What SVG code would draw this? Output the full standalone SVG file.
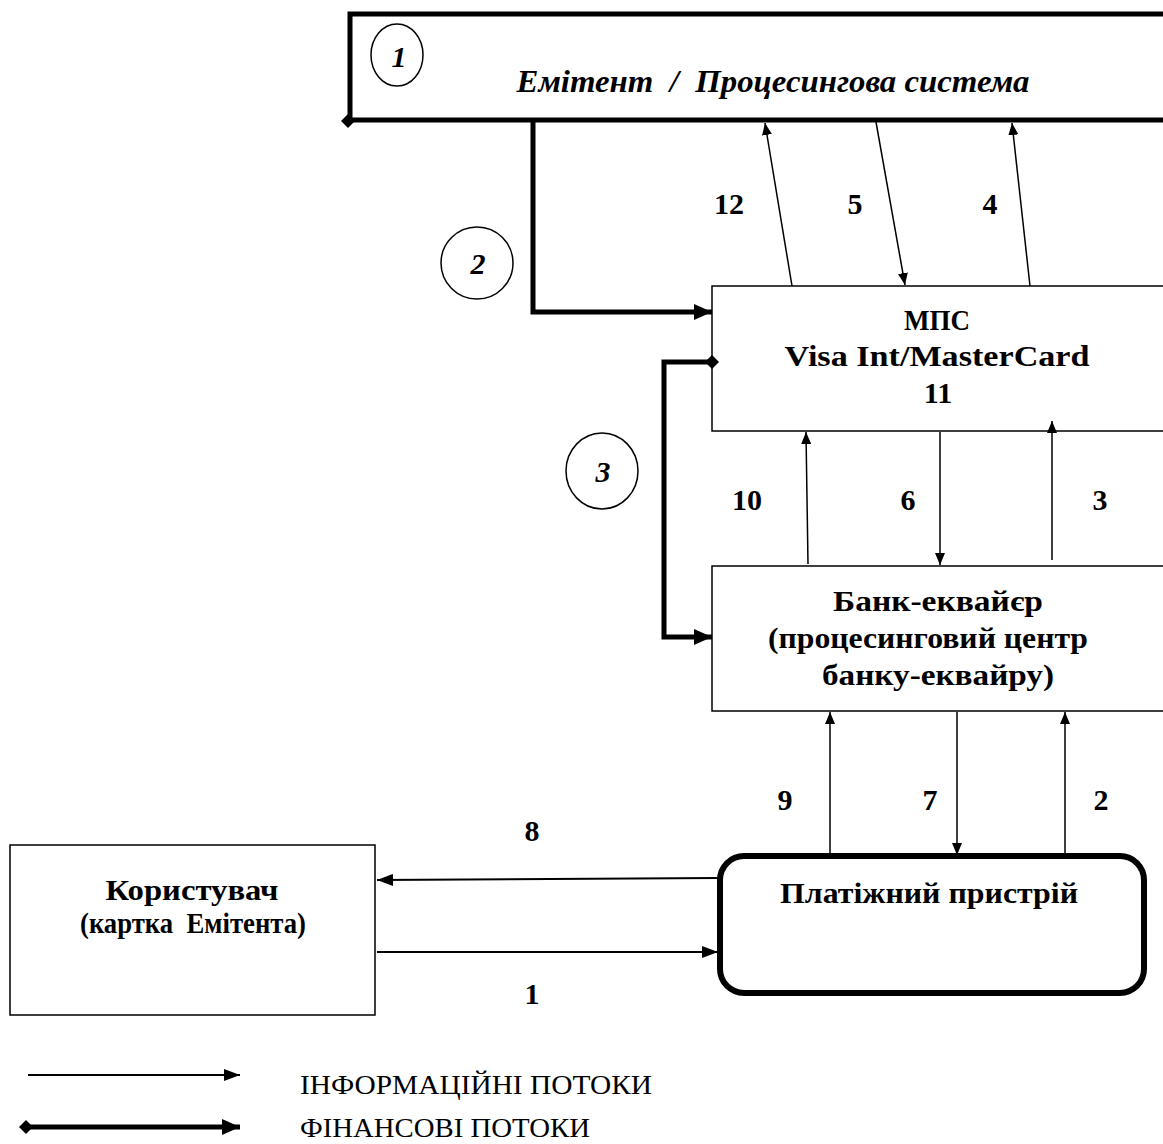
<svg xmlns="http://www.w3.org/2000/svg" width="1163" height="1144" viewBox="0 0 1163 1144">
<style>
.t{font-family:"Liberation Serif","Times New Roman",serif;font-weight:bold;font-size:30px;fill:#000;text-anchor:middle}
.ti{font-family:"Liberation Serif","Times New Roman",serif;font-weight:bold;font-style:italic;fill:#000;text-anchor:middle}
.lg{font-family:"Liberation Serif","Times New Roman",serif;font-size:28px;fill:#000}
.info{stroke:#000;stroke-width:1.5;fill:none}
.fin{stroke:#000;stroke-width:5;fill:none}
.box{fill:#fff;stroke:#000;stroke-width:1.5}
</style>
<defs>
<marker id="ah" viewBox="0 0 12 10" refX="12" refY="5" markerWidth="12" markerHeight="10" markerUnits="userSpaceOnUse" orient="auto">
<path d="M0,0 L12,5 L0,10 Z" fill="#000"/>
</marker>
<marker id="ahl" viewBox="0 0 16 12" refX="16" refY="6" markerWidth="16" markerHeight="12" markerUnits="userSpaceOnUse" orient="auto">
<path d="M0,0 L16,6 L0,12 Z" fill="#000"/>
</marker>
<marker id="ahf" viewBox="0 0 18 16" refX="18" refY="8" markerWidth="18" markerHeight="16" markerUnits="userSpaceOnUse" orient="auto">
<path d="M0,0 L18,8 L0,16 Z" fill="#000"/>
</marker>
<marker id="dia" viewBox="0 0 14 14" refX="7" refY="7" markerWidth="14" markerHeight="14" markerUnits="userSpaceOnUse" orient="auto">
<path d="M0,7 L7,0 L14,7 L7,14 Z" fill="#000"/>
</marker>
</defs>
<rect width="1163" height="1144" fill="#fff"/>

<g id="emitent">
<rect x="350" y="14" width="830" height="106" fill="#fff" stroke="#000" stroke-width="5"/>
<text class="ti" x="773" y="92" font-size="32" xml:space="preserve" textLength="513" lengthAdjust="spacingAndGlyphs">Емітент  /  Процесингова система</text>
</g>
<g id="circle1">
<ellipse cx="397" cy="55" rx="26" ry="31" fill="#fff" stroke="#000" stroke-width="1.5"/>
<text class="ti" x="399" y="67" font-size="30">1</text>
</g>
<g id="circle2">
<ellipse cx="477" cy="263" rx="36" ry="36" fill="#fff" stroke="#000" stroke-width="1.5"/>
<text class="ti" x="478" y="274" font-size="30">2</text>
</g>
<g id="circle3">
<ellipse cx="602" cy="471" rx="36" ry="38" fill="#fff" stroke="#000" stroke-width="1.5"/>
<text class="ti" x="603" y="482" font-size="30">3</text>
</g>

<g id="mps">
<rect class="box" x="712" y="286" width="470" height="145"/>
<text class="t" x="937" y="330" textLength="66" lengthAdjust="spacingAndGlyphs">МПС</text>
<text class="t" x="937" y="366" font-size="32" textLength="305" lengthAdjust="spacingAndGlyphs">Visa Int/MasterCard</text>
<text class="t" x="938" y="403" font-size="32">11</text>
</g>

<g id="bank">
<rect class="box" x="712" y="566" width="470" height="145"/>
<text class="t" x="938" y="611" textLength="210" lengthAdjust="spacingAndGlyphs">Банк-еквайєр</text>
<text class="t" x="928" y="648" textLength="320" lengthAdjust="spacingAndGlyphs">(процесинговий центр</text>
<text class="t" x="938" y="685" textLength="232" lengthAdjust="spacingAndGlyphs">банку-еквайру)</text>
</g>

<g id="device">
<rect x="720" y="856" width="424" height="137" rx="24" ry="24" fill="#fff" stroke="#000" stroke-width="6"/>
<text class="t" x="929" y="903" textLength="298" lengthAdjust="spacingAndGlyphs">Платіжний пристрій</text>
</g>

<g id="user">
<rect class="box" x="10" y="845" width="365" height="170"/>
<text class="t" x="192" y="900" textLength="173" lengthAdjust="spacingAndGlyphs">Користувач</text>
<text class="t" x="193" y="933" font-size="21" xml:space="preserve" textLength="226" lengthAdjust="spacingAndGlyphs">(картка  Емітента)</text>
</g>

<g id="connectors">
<path d="M348,121 L350,121" class="fin" marker-start="url(#dia)"/>
<path d="M533,120 L533,312 L712,312" class="fin" marker-end="url(#ahf)"/>
<path d="M712,362 L664,362 L664,637 L712,637" class="fin" marker-start="url(#dia)" marker-end="url(#ahf)"/>

<line class="info" x1="792" y1="286" x2="765" y2="123" marker-end="url(#ah)"/>
<line class="info" x1="876" y1="122" x2="905" y2="285" marker-end="url(#ah)"/>
<line class="info" x1="1030" y1="286" x2="1012" y2="123" marker-end="url(#ah)"/>

<line class="info" x1="808" y1="564" x2="806" y2="432" marker-end="url(#ah)"/>
<line class="info" x1="940" y1="432" x2="940" y2="565" marker-end="url(#ah)"/>
<line class="info" x1="1052" y1="560" x2="1052" y2="421" marker-end="url(#ah)"/>

<line class="info" x1="830" y1="854" x2="830" y2="712" marker-end="url(#ah)"/>
<line class="info" x1="957" y1="712" x2="957" y2="855" marker-end="url(#ah)"/>
<line class="info" x1="1065" y1="854" x2="1065" y2="712" marker-end="url(#ah)"/>

<line x1="718" y1="878" x2="377" y2="880" stroke="#000" stroke-width="2" marker-end="url(#ahl)"/>
<line x1="377" y1="952" x2="718" y2="952" stroke="#000" stroke-width="2" marker-end="url(#ahl)"/>

<text class="t" x="729" y="214">12</text>
<text class="t" x="855" y="214">5</text>
<text class="t" x="990" y="214">4</text>
<text class="t" x="747" y="510">10</text>
<text class="t" x="908" y="510">6</text>
<text class="t" x="1100" y="510">3</text>
<text class="t" x="785" y="810">9</text>
<text class="t" x="930" y="810">7</text>
<text class="t" x="1101" y="810">2</text>
<text class="t" x="532" y="841">8</text>
<text class="t" x="532" y="1004">1</text>
</g>

<g id="legend">
<line x1="28" y1="1075" x2="240" y2="1075" stroke="#000" stroke-width="2" marker-end="url(#ahl)"/>
<text class="lg" x="300" y="1094" textLength="352" lengthAdjust="spacingAndGlyphs">ІНФОРМАЦІЙНІ ПОТОКИ</text>
<line x1="26" y1="1127" x2="240" y2="1127" stroke="#000" stroke-width="5" marker-start="url(#dia)" marker-end="url(#ahf)"/>
<text class="lg" x="300" y="1137" textLength="290" lengthAdjust="spacingAndGlyphs">ФІНАНСОВІ ПОТОКИ</text>
</g>
</svg>
